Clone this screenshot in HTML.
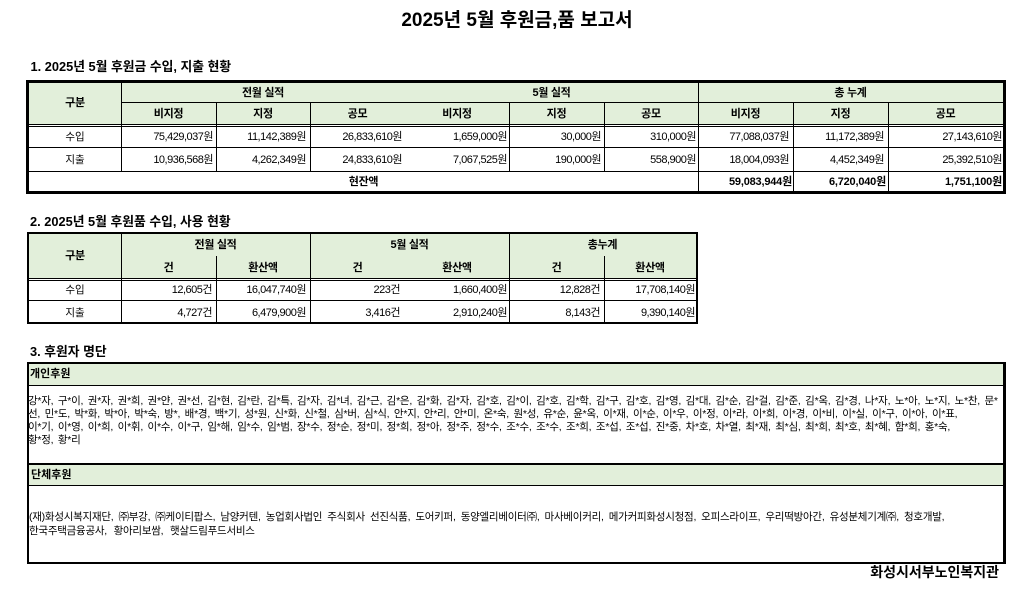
<!DOCTYPE html>
<html><head><meta charset="utf-8">
<style>
*{margin:0;padding:0;box-sizing:border-box}
body{width:1036px;height:590px;background:#fff;position:relative;overflow:hidden;font-family:"Liberation Sans","Noto Sans CJK KR",sans-serif;color:#000}
.a{position:absolute;white-space:nowrap}
.h{position:absolute;height:1px;background:#000}
.v{position:absolute;width:1px;background:#000}
.f{position:absolute;background:#E2EFDA}
.bx{position:absolute;border:solid #000}
.t{position:absolute;white-space:nowrap;text-align:center;font-weight:bold;font-size:11px;letter-spacing:-0.3px;height:16px;line-height:16px}
.l{position:absolute;white-space:nowrap;text-align:center;font-size:10.5px;height:16px;line-height:16px}
.n{position:absolute;white-space:nowrap;text-align:right;font-size:11px;letter-spacing:-0.5px;width:200px;height:16px;line-height:16px}
.nb{font-weight:bold;letter-spacing:-0.2px}
.hd{position:absolute;white-space:nowrap;font-weight:bold;font-size:12.8px;height:16px;line-height:16px}
.nm{position:absolute;white-space:nowrap;overflow:hidden;font-size:10.5px;letter-spacing:-0.25px;word-spacing:1.9px;left:28px;width:975px;height:13px;line-height:13px}
.og{position:absolute;white-space:nowrap;overflow:hidden;font-size:10.5px;letter-spacing:-0.25px;word-spacing:2.4px;left:29px;width:974px;height:13px;line-height:13px}
.sh{position:absolute;white-space:nowrap;font-weight:bold;font-size:11px;height:16px;line-height:16px}
</style></head><body>

<div class="a" style="left:0;top:8.5px;width:1034px;text-align:center;font-weight:bold;font-size:19px;height:24px;line-height:24px">2025년 5월 후원금,품 보고서</div>

<div class="hd" style="left:30.5px;top:58.7px">1. 2025년 5월 후원금 수입, 지출 현황</div>

<!-- Table 1 -->
<div class="f" style="left:29px;top:83px;width:974px;height:41px"></div>
<div class="bx" style="left:26px;top:80px;width:980px;height:114px;border-width:3px"></div>
<div class="h" style="left:121px;top:102px;width:882px"></div>
<div class="h" style="left:29px;top:124px;width:974px"></div>
<div class="h" style="left:29px;top:126px;width:974px"></div>
<div class="h" style="left:29px;top:147px;width:974px"></div>
<div class="h" style="left:29px;top:171px;width:974px"></div>
<div class="v" style="left:121px;top:83px;height:88px"></div>
<div class="v" style="left:216px;top:102px;height:69px"></div>
<div class="v" style="left:310px;top:102px;height:69px"></div>
<div class="v" style="left:509px;top:102px;height:69px"></div>
<div class="v" style="left:604px;top:102px;height:69px"></div>
<div class="v" style="left:698px;top:83px;height:108px"></div>
<div class="v" style="left:793px;top:102px;height:89px"></div>
<div class="v" style="left:888px;top:102px;height:89px"></div>

<div class="t" style="left:29px;top:95px;width:92px">구분</div>
<div class="t" style="left:121px;top:84.5px;width:284px">전월 실적</div>
<div class="t" style="left:405px;top:84.5px;width:293px">5월 실적</div>
<div class="t" style="left:698px;top:84.5px;width:305px">총 누계</div>
<div class="t" style="left:121px;top:106px;width:95px">비지정</div>
<div class="t" style="left:216px;top:106px;width:94px">지정</div>
<div class="t" style="left:310px;top:106px;width:95px">공모</div>
<div class="t" style="left:405px;top:106px;width:104px">비지정</div>
<div class="t" style="left:509px;top:106px;width:95px">지정</div>
<div class="t" style="left:604px;top:106px;width:94px">공모</div>
<div class="t" style="left:698px;top:106px;width:95px">비지정</div>
<div class="t" style="left:793px;top:106px;width:95px">지정</div>
<div class="t" style="left:888px;top:106px;width:115px">공모</div>

<div class="l" style="left:29px;top:129px;width:92px">수입</div>
<div class="n" style="left:13px;top:129px">75,429,037원</div>
<div class="n" style="left:106px;top:129px">11,142,389원</div>
<div class="n" style="left:202px;top:129px">26,833,610원</div>
<div class="n" style="left:307px;top:129px">1,659,000원</div>
<div class="n" style="left:401px;top:129px">30,000원</div>
<div class="n" style="left:496px;top:129px">310,000원</div>
<div class="n" style="left:589px;top:129px">77,088,037원</div>
<div class="n" style="left:684px;top:129px">11,172,389원</div>
<div class="n" style="left:802px;top:129px">27,143,610원</div>

<div class="l" style="left:29px;top:152px;width:92px">지출</div>
<div class="n" style="left:13px;top:152px">10,936,568원</div>
<div class="n" style="left:106px;top:152px">4,262,349원</div>
<div class="n" style="left:202px;top:152px">24,833,610원</div>
<div class="n" style="left:307px;top:152px">7,067,525원</div>
<div class="n" style="left:401px;top:152px">190,000원</div>
<div class="n" style="left:496px;top:152px">558,900원</div>
<div class="n" style="left:589px;top:152px">18,004,093원</div>
<div class="n" style="left:684px;top:152px">4,452,349원</div>
<div class="n" style="left:802px;top:152px">25,392,510원</div>

<div class="t" style="left:29px;top:173.5px;width:669px">현잔액</div>
<div class="n nb" style="left:592px;top:173.5px">59,083,944원</div>
<div class="n nb" style="left:686px;top:173.5px">6,720,040원</div>
<div class="n nb" style="left:802px;top:173.5px">1,751,100원</div>

<div class="hd" style="left:30px;top:213.7px">2. 2025년 5월 후원품 수입, 사용 현황</div>

<!-- Table 2 -->
<div class="f" style="left:29px;top:234px;width:667px;height:44px"></div>
<div class="bx" style="left:27px;top:232px;width:671px;height:92px;border-width:2px"></div>
<div class="h" style="left:29px;top:278px;width:667px"></div>
<div class="h" style="left:29px;top:280px;width:667px"></div>
<div class="h" style="left:29px;top:300px;width:667px"></div>
<div class="v" style="left:121px;top:234px;height:88px"></div>
<div class="v" style="left:310px;top:234px;height:88px"></div>
<div class="v" style="left:509px;top:234px;height:88px"></div>
<div class="v" style="left:216px;top:256px;height:66px"></div>
<div class="v" style="left:604px;top:256px;height:66px"></div>

<div class="t" style="left:29px;top:248px;width:92px">구분</div>
<div class="t" style="left:121px;top:237px;width:189px">전월 실적</div>
<div class="t" style="left:310px;top:237px;width:199px">5월 실적</div>
<div class="t" style="left:509px;top:237px;width:187px">총누계</div>
<div class="t" style="left:121px;top:260px;width:95px">건</div>
<div class="t" style="left:216px;top:260px;width:94px">환산액</div>
<div class="t" style="left:310px;top:260px;width:95px">건</div>
<div class="t" style="left:405px;top:260px;width:104px">환산액</div>
<div class="t" style="left:509px;top:260px;width:95px">건</div>
<div class="t" style="left:604px;top:260px;width:92px">환산액</div>

<div class="l" style="left:29px;top:282px;width:92px">수입</div>
<div class="n" style="left:12px;top:282px">12,605건</div>
<div class="n" style="left:106px;top:282px">16,047,740원</div>
<div class="n" style="left:200px;top:282px">223건</div>
<div class="n" style="left:307px;top:282px">1,660,400원</div>
<div class="n" style="left:400px;top:282px">12,828건</div>
<div class="n" style="left:495px;top:282px">17,708,140원</div>

<div class="l" style="left:29px;top:305px;width:92px">지출</div>
<div class="n" style="left:12px;top:305px">4,727건</div>
<div class="n" style="left:106px;top:305px">6,479,900원</div>
<div class="n" style="left:200px;top:305px">3,416건</div>
<div class="n" style="left:307px;top:305px">2,910,240원</div>
<div class="n" style="left:400px;top:305px">8,143건</div>
<div class="n" style="left:495px;top:305px">9,390,140원</div>

<div class="hd" style="left:30px;top:344.2px">3. 후원자 명단</div>

<!-- Section 3 -->
<div class="f" style="left:29px;top:364px;width:974px;height:21px"></div>
<div class="f" style="left:29px;top:465px;width:974px;height:20px"></div>
<div class="h" style="left:29px;top:385px;width:974px"></div>
<div class="h" style="left:29px;top:463px;width:974px;height:2px"></div>
<div class="h" style="left:29px;top:485px;width:974px"></div>
<div class="bx" style="left:27px;top:362px;width:979px;height:202px;border-width:2px 3px 2px 2px"></div>

<div class="sh" style="left:30px;top:366px">개인후원</div>
<div class="nm" style="top:395px">강*자, 구*이, 권*자, 권*희, 권*얀, 권*선, 김*현, 김*란, 김*특, 김*자, 김*녀, 김*근, 김*은, 김*화, 김*자, 김*호, 김*이, 김*호, 김*학, 김*구, 김*호, 김*영, 김*대, 김*순, 김*걸, 김*준, 김*옥, 김*경, 나*자, 노*아, 노*지, 노*찬, 문*</div>
<div class="nm" style="top:408px">선, 민*도, 박*화, 박*아, 박*숙, 방*, 배*경, 백*기, 성*원, 신*화, 신*철, 심*버, 심*식, 안*지, 안*리, 안*미, 온*숙, 원*성, 유*순, 윤*옥, 이*재, 이*순, 이*우, 이*정, 이*라, 이*희, 이*경, 이*비, 이*실, 이*구, 이*아, 이*표,</div>
<div class="nm" style="top:421px">이*기, 이*영, 이*희, 이*휘, 이*수, 이*구, 임*해, 임*수, 임*범, 장*수, 정*순, 정*미, 정*희, 정*아, 정*주, 정*수, 조*수, 조*수, 조*희, 조*섭, 조*섭, 진*중, 차*호, 차*열, 최*재, 최*심, 최*희, 최*호, 최*혜, 함*희, 홍*숙,</div>
<div class="nm" style="top:434px">황*정, 황*리</div>

<div class="sh" style="left:31px;top:467px">단체후원</div>
<div class="og" style="top:511px">(재)화성시복지재단, ㈜부강, ㈜케이티팝스, 남양커텐, 농업회사법인 주식회사 선진식품, 도어키퍼, 동양엘리베이터㈜, 마사베이커리, 메가커피화성시청점, 오피스라이프, 우리떡방아간, 유성분체기계㈜, 청호개발,</div>
<div class="og" style="top:525px;word-spacing:4px">한국주택금융공사, 황아리보쌈, 햇살드림푸드서비스</div>

<div class="a" style="left:799px;top:563px;width:200px;text-align:right;font-weight:bold;font-size:14px;height:18px;line-height:18px">화성시서부노인복지관</div>

</body></html>
